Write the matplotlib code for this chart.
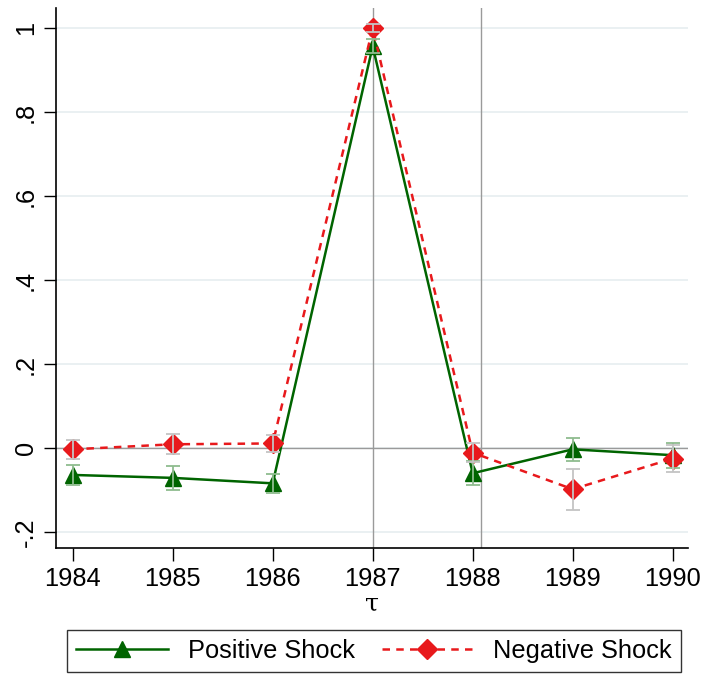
import numpy as np
import matplotlib
matplotlib.use("Agg")
import matplotlib.pyplot as plt

plt.rcParams['font.family'] = ['Liberation Sans', 'DejaVu Sans']

# ── data ────────────────────────────────────────────────────────────────────
years = [1984, 1985, 1986, 1987, 1988, 1989, 1990]
pos_coef = [-0.064, -0.071, -0.084, 0.957, -0.060, -0.003, -0.017]
pos_err = [0.024, 0.029, 0.023, 0.017, 0.028, 0.028, 0.030]
neg_coef = [-0.003, 0.009, 0.011, 1.000, -0.011, -0.098, -0.025]
neg_err = [0.023, 0.024, 0.020, 0.010, 0.022, 0.049, 0.032]
yticks = [-0.2, 0, 0.2, 0.4, 0.6, 0.8, 1.0]
ytick_labels = ['-.2', '0', '.2', '.4', '.6', '.8', '1']
vlines = [1987, 1988.08]

green = '#006400'
red = '#e8191c'
fs = 18.3

fig = plt.figure(figsize=(7.05, 6.77), dpi=100)
ax = fig.add_axes([56 / 705, 1 - 548 / 677, (688 - 56) / 705, (548 - 8) / 677])

for yv in yticks:
    ax.axhline(yv, color='#e6eef0', lw=1.2, zorder=0)
ax.axhline(0, color='#9a9a9a', lw=1.0, zorder=1)
for xv in vlines:
    ax.axvline(xv, color='#9a9a9a', lw=1.0, zorder=1)

ln_pos, = ax.plot(years, pos_coef, color=green, lw=1.8, marker='^', ms=12,
                  mec=green, mfc=green, zorder=3, label='Positive Shock')
ln_neg, = ax.plot(years, neg_coef, color=red, lw=1.8, ls=(0, (3, 2.5)), marker='D',
                  ms=10.5, mec=red, mfc=red, zorder=4, label='Negative Shock')

ax.errorbar(years, pos_coef, yerr=pos_err, fmt='none', ecolor='#8fbc8f',
            elinewidth=1.3, capsize=5, capthick=1.3, zorder=5)
ax.errorbar(years, neg_coef, yerr=neg_err, fmt='none', ecolor='#c4c4c4',
            elinewidth=1.3, capsize=5, capthick=1.3, zorder=6)

ax.set_xlim(1983.833, 1990.153)
ax.set_ylim(-0.238, 1.048)
ax.set_xticks(years)
ax.set_xticklabels([str(y) for y in years], fontsize=fs)
ax.set_yticks(yticks)
ax.set_yticklabels(ytick_labels, fontsize=fs, rotation=90, va='center')
ax.tick_params(axis='both', length=9, width=1, color='black', pad=5)
ax.tick_params(axis='y', pad=4)
ax.set_xlabel('τ', fontsize=fs, family=['DejaVu Serif'], labelpad=1)

for side in ['top', 'right']:
    ax.spines[side].set_visible(False)
for side in ['left', 'bottom']:
    ax.spines[side].set_linewidth(1.2)

leg = fig.legend(handles=[ln_pos, ln_neg], loc='lower center', ncol=2,
                 bbox_to_anchor=(374 / 705, -0.004), fontsize=fs, frameon=True,
                 fancybox=False, edgecolor='black', handlelength=3.6,
                 columnspacing=1.05, borderpad=0.35, borderaxespad=0.3)
leg.get_frame().set_linewidth(1.0)

fig.savefig('out.png', dpi=100)
